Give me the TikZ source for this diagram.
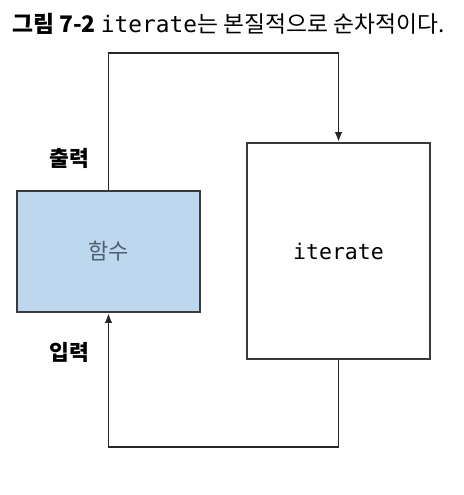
\documentclass[tikz,border=0pt]{standalone}
\usepackage{fontspec}
\setmainfont{Noto Sans CJK KR}
\setmonofont{DejaVu Sans Mono}
\usetikzlibrary{arrows.meta}
\definecolor{boxblue}{HTML}{BDD7EE}
\definecolor{boxedge}{HTML}{3A3A3A}
\definecolor{fntext}{HTML}{4F5F6F}
\tikzset{
  blk/.style={draw=boxedge, line width=1.8bp, rectangle, inner sep=0pt},
  conn/.style={line width=1.8bp, draw=black!85},
  tip/.style={-{Latex[length=10bp,width=7.5bp]}},
  lbl/.style={font=\fontsize{21.5bp}{24bp}\selectfont\bfseries, inner sep=0pt},
}
\begin{document}
\begin{tikzpicture}[x=1bp,y=-1bp]
\useasboundingbox (0,0) rectangle (464,495);
\node[anchor=west, inner sep=0pt] (title) at (12,24) {\fontsize{22.8bp}{26bp}\selectfont\textbf{그림 7-2} \texttt{iterate}는 본질적으로 순차적이다.};
\node[blk, fill=boxblue, minimum width=183bp, minimum height=121bp] (fn) at (108.5,251.5) {};
\node[text=fntext, inner sep=0pt, font=\fontsize{22bp}{24bp}\selectfont] (fnt) at (fn.center) {함수};
\node[blk, fill=white, minimum width=183bp, minimum height=216bp] (it) at (338.5,251) {};
\node[inner sep=0pt, font=\fontsize{21.5bp}{24bp}\ttfamily] (itt) at (it.center) {iterate};
\coordinate (tl) at (108.5,53);
\coordinate (tr) at (338.5,53);
\coordinate (bl) at (108.5,447);
\coordinate (br) at (338.5,447);
\draw[conn, tip] (fn.north) -- (tl) -- (tr) -- (it.north);
\draw[conn, tip] (it.south) -- (br) -- (bl) -- (fn.south);
\node[lbl] (out) at (69,158) {출력};
\node[lbl] (in) at (69,352) {입력};
\end{tikzpicture}
\end{document}
